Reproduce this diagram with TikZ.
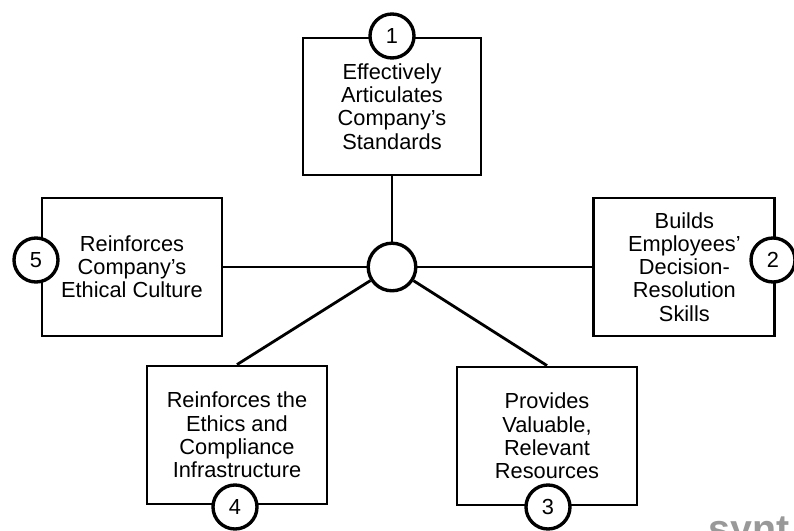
\documentclass[tikz,border=0pt]{standalone}
\usepackage{fontspec}
\setmainfont{Liberation Sans}

\begin{document}
\begin{tikzpicture}[
    box/.style={draw, line width=2pt, minimum width=4.5cm, minimum height=3.45cm,
        align=center, inner sep=2pt, font=\fontsize{15.5}{16.5}\selectfont},
    num/.style={draw, circle, line width=2.4pt, fill=white, minimum size=1.1cm,
        inner sep=0pt, font=\fontsize{15.5}{16.5}\selectfont},
    link/.style={line width=2pt}
]
    \clip (0,0) rectangle (19.85,13.275);
    % the five boxes
    \node[box, minimum width=4.45cm, minimum height=3.425cm] (B1) at (9.8,10.6125)
        {Effectively\\Articulates\\Company's\\Standards};
    \node[box, minimum width=4.525cm] (B2) at (17.11,6.6)
        {Builds\\Employees'\\Decision-\\Resolution\\Skills};
    \node[box] (B3) at (13.675,2.375) {Provides\\Valuable,\\Relevant\\Resources};
    \node[box] (B4) at (5.925,2.4) {Reinforces the\\Ethics and\\Compliance\\Infrastructure};
    \node[box] (B5) at (3.3,6.6) {Reinforces\\Company's\\Ethical Culture};
    % hub and spokes
    \node[num, minimum size=1.19cm] (H) at (9.8,6.6) {};
    \draw[link] (B1) -- (H);
    \draw[link] (H) -- (B2);
    \draw[link] (H) -- (B3.north);
    \draw[link] (H) -- (B4.north);
    \draw[link] (H) -- (B5);
    % numbers
    \node[num] (N1) at (9.8,12.375) {1};
    \node[num] (N2) at (19.325,6.775) {2};
    \node[num] (N3) at (13.7,0.6) {3};
    \node[num] (N4) at (5.875,0.6) {4};
    \node[num] (N5) at (0.9,6.775) {5};
    \node[anchor=base west, inner sep=0pt, text=black!40,
        font=\fontsize{28}{28}\selectfont\bfseries] (W) at (17.7,-0.3) {synt};
\end{tikzpicture}
\end{document}
